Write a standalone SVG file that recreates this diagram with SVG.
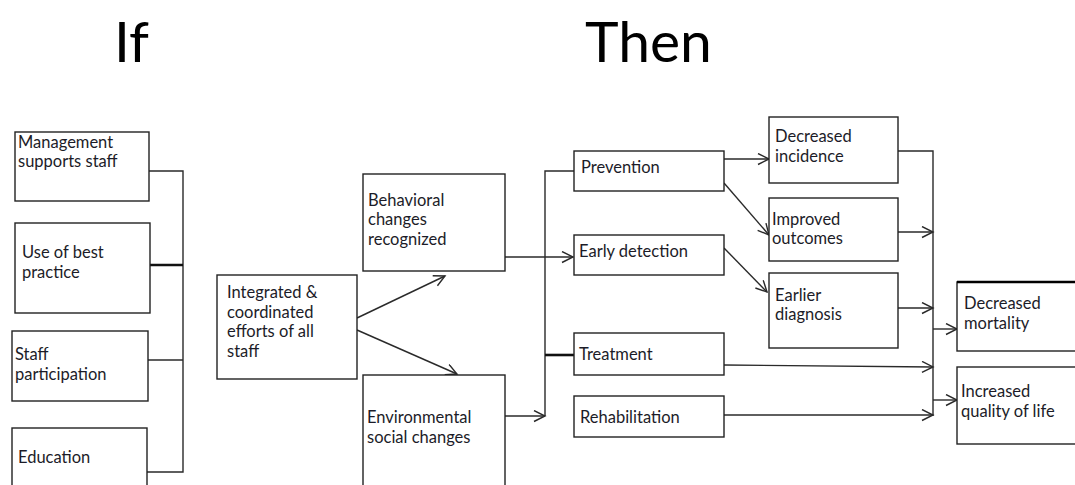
<svg xmlns="http://www.w3.org/2000/svg" width="1075" height="485" viewBox="0 0 1075 485">
<defs>
<style>
.box{fill:#fff;stroke:#222;stroke-width:1.4}
.t{font-family:Lato,"Liberation Sans",sans-serif;font-size:16.5px;fill:#1c1c28}
.title{font-family:Lato,"Liberation Sans",sans-serif;font-size:57px;fill:#000}
.ln{fill:none;stroke:#2a2a2a;stroke-width:1.4}
.thick{fill:none;stroke:#111;stroke-width:2.6}
.ar{fill:none;stroke:#2a2a2a;stroke-width:1.4;marker-end:url(#ah)}
</style>
<marker id="ah" markerUnits="userSpaceOnUse" markerWidth="14" markerHeight="14" refX="12" refY="6" orient="auto">
<path d="M1,0.5 L12,6 L1,11.5" fill="none" stroke="#2a2a2a" stroke-width="1.4"/>
</marker>
</defs>
<rect width="1075" height="485" fill="#fff"/>
<text class="title" x="114" y="62">If</text>
<text class="title" x="585" y="62">Then</text>

<g id="connectors">
<path class="ln" d="M149,171 H183 V472 H147"/>
<path class="thick" d="M150,265 H183"/>
<path class="ln" d="M148,360 H183"/>
<path class="ar" d="M357,318 L445,276"/>
<path class="ar" d="M357,330 L457,374"/>
<path class="ar" d="M505,257 H573"/>
<path class="ar" d="M505,416 H545"/>
<path class="ln" d="M574,171 H545 V416"/>
<path class="thick" d="M545,355 H574"/>
<path class="ar" d="M724,159 H769"/>
<path class="ar" d="M724,183 L769,235"/>
<path class="ar" d="M724,248 L767,292"/>
<path class="ln" d="M898,151 H933 V416"/>
<path class="ar" d="M898,232 H933"/>
<path class="ar" d="M898,308 H933"/>
<path class="ar" d="M724,365 L933,367"/>
<path class="ar" d="M724,415 H933"/>
<path class="ar" d="M933,329 H957"/>
<path class="ar" d="M933,400 H957"/>
</g>

<g id="n-management"><rect class="box" x="15" y="132" width="134" height="69"/><text class="t" x="18" y="148">Management</text><text class="t" x="18" y="167">supports staff</text></g>
<g id="n-bestpractice"><rect class="box" x="15" y="223" width="135" height="90"/><text class="t" x="22" y="258">Use of best</text><text class="t" x="22" y="278">practice</text></g>
<g id="n-participation"><rect class="box" x="12" y="331" width="136" height="70"/><text class="t" x="15" y="360">Staff</text><text class="t" x="15" y="380">participation</text></g>
<g id="n-education"><rect class="box" x="12" y="428" width="135" height="62"/><text class="t" x="18" y="463">Education</text></g>

<g id="n-integrated"><rect class="box" x="217" y="275" width="140" height="104"/><text class="t" x="227" y="298">Integrated &amp;</text><text class="t" x="227" y="318">coordinated</text><text class="t" x="227" y="337">efforts of all</text><text class="t" x="227" y="357">staff</text></g>
<g id="n-behavioral"><rect class="box" x="363" y="174" width="142" height="97"/><text class="t" x="368" y="206">Behavioral</text><text class="t" x="368" y="225">changes</text><text class="t" x="368" y="245">recognized</text></g>
<g id="n-environmental"><rect class="box" x="363" y="375" width="142" height="115"/><text class="t" x="367" y="423">Environmental</text><text class="t" x="367" y="443">social changes</text></g>

<g id="n-prevention"><rect class="box" x="574" y="151" width="150" height="40"/><text class="t" x="581" y="173">Prevention</text></g>
<g id="n-earlydetection"><rect class="box" x="574" y="235" width="150" height="40"/><text class="t" x="579" y="257">Early detection</text></g>
<g id="n-treatment"><rect class="box" x="574" y="333" width="150" height="42"/><text class="t" x="579" y="360">Treatment</text></g>
<g id="n-rehabilitation"><rect class="box" x="574" y="396" width="150" height="41"/><text class="t" x="580" y="423">Rehabilitation</text></g>

<g id="n-incidence"><rect class="box" x="769" y="117" width="129" height="66"/><text class="t" x="775" y="142">Decreased</text><text class="t" x="775" y="162">incidence</text></g>
<g id="n-outcomes"><rect class="box" x="769" y="198" width="129" height="63"/><text class="t" x="772" y="225">Improved</text><text class="t" x="772" y="244">outcomes</text></g>
<g id="n-diagnosis"><rect class="box" x="769" y="273" width="129" height="75"/><text class="t" x="775" y="301">Earlier</text><text class="t" x="775" y="320">diagnosis</text></g>

<g id="n-mortality"><rect class="box" x="957" y="282" width="125" height="69"/><path d="M957,282 H1075" stroke="#000" stroke-width="2.4"/><text class="t" x="964" y="309">Decreased</text><text class="t" x="964" y="329">mortality</text></g>
<g id="n-quality"><rect class="box" x="957" y="367" width="125" height="77"/><text class="t" x="961" y="397">Increased</text><text class="t" x="961" y="417">quality of life</text></g>
</svg>
